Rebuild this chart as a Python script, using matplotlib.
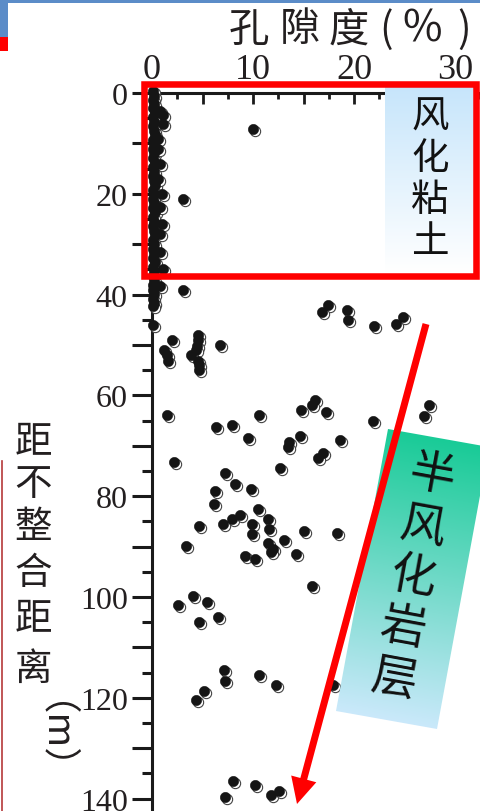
import numpy as np
import matplotlib
matplotlib.use("Agg")
import matplotlib.pyplot as plt
from matplotlib import transforms
from matplotlib.colors import to_rgb
from matplotlib.patches import Rectangle, Polygon, FancyArrow
from matplotlib.ticker import MultipleLocator, FuncFormatter

W, H, DPI = 481, 812, 100
CJK = ["Noto Sans CJK SC", "DejaVu Sans"]

# weathered clay layer: porosity (%) vs distance to unconformity (m)
clay_depth = [-0.3, 0.5, 1.3, 2.2, 3.0, 3.9, 4.8, 5.7, 6.6, 7.5, 8.4, 9.3, 10.2,
              11.1, 12.0, 12.9, 13.8, 14.7, 15.6, 16.5, 17.4, 18.3, 19.2, 20.1,
              21.0, 21.9, 22.8, 23.7, 24.6, 25.5, 26.4, 27.3, 28.2, 29.1, 30.0,
              30.9, 31.8, 32.7, 33.6, 34.5, 35.4, 36.3, 37.2, 38.1, 39.0, 39.9,
              40.8, 41.6, 42.3, 46.0,
              3.6, 4.4, 6.2, 9.1, 11.1, 14.1, 17.1, 20.0, 22.6, 26.0, 28.0, 31.5,
              34.9, 38.3, 7.1, 21.0, 39.1]
clay_porosity = [0.1, 0.2, 0.1, 0.2, 0.1, 0.3, 0.1, 0.2, 0.1, 0.2, 0.3, 0.1, 0.2,
                 0.1, 0.2, 0.1, 0.3, 0.1, 0.2, 0.1, 0.2, 0.3, 0.1, 0.2,
                 0.1, 0.2, 0.1, 0.3, 0.1, 0.2, 0.1, 0.2, 0.3, 0.1, 0.2,
                 0.1, 0.2, 0.1, 0.3, 0.1, 0.2, 0.1, 0.2, 0.1, 0.1, 0.2,
                 0.1, 0.2, 0.1, 0.1,
                 0.8, 1.1, 1.1, 0.6, 0.6, 0.8, 0.6, 1.0, 0.8, 1.0, 0.8, 0.8,
                 1.1, 0.8, 10.0, 3.1, 3.1]

# semi-weathered rock layer
rock_depth = [49.0, 50.9, 52.0, 53.1, 48.0, 49.1, 50.1, 50.9, 52.0, 53.1, 54.0, 54.9,
              50.0, 42.1, 43.5, 43.0, 45.0, 46.2, 45.8, 44.4,
              60.9, 62.0, 62.9, 63.2, 65.0, 62.0, 64.1,
              63.8, 66.3, 65.8, 68.5, 63.9, 68.0, 69.3, 70.3, 68.9, 71.4, 72.4,
              73.3, 75.4, 74.4, 77.6, 78.9, 78.6, 81.5, 82.5,
              86.0, 85.5, 84.5, 83.7, 84.5, 85.5, 86.5, 87.5, 87.0, 87.4, 88.6,
              89.3, 90.5, 91.0, 91.5, 91.8, 92.5, 89.9, 97.9,
              99.9, 101.6, 100.9, 105.0, 104.0,
              114.4, 115.5, 116.7, 117.5, 117.5, 118.6, 120.4,
              136.6, 137.3, 139.6, 139.3, 138.4]
rock_porosity = [1.95, 1.2, 1.45, 1.6, 4.6, 4.6, 4.5, 4.4, 3.9, 4.6, 4.65, 4.65,
                 6.7, 17.4, 16.8, 19.3, 19.4, 22.0, 24.2, 24.9,
                 16.1, 15.8, 14.8, 17.2, 21.85, 27.45, 26.9,
                 1.45, 6.3, 7.9, 9.5, 10.6, 14.7, 13.6, 13.5, 18.6, 16.9, 16.4,
                 2.2, 7.2, 12.7, 8.2, 6.2, 9.8, 6.1, 10.5,
                 4.7, 7.0, 7.9, 8.7, 11.45, 9.9, 11.6, 9.9, 15.0, 18.3, 13.1,
                 11.5, 11.95, 11.75, 14.3, 9.2, 10.2, 3.4, 15.8,
                 4.1, 2.6, 5.4, 4.7, 6.5,
                 7.1, 10.6, 7.2, 12.3, 17.95, 5.1, 4.4,
                 8.05, 10.2, 7.2, 11.75, 12.6]

title_chars = ["孔", "隙", "度", "(", "%", ")"]
ylabel_chars = ["距", "不", "整", "合", "距", "离"]
ylabel_unit = "（m）"
clay_label = "风化粘土"
rock_label = "半风化岩层"

plt.rcParams["font.family"] = ["Liberation Serif", "DejaVu Serif"]

fig = plt.figure(figsize=(W / DPI, H / DPI), dpi=DPI)
fig.patch.set_facecolor("white")

# main axes: x = 0 at px 152 (10.1 px per %), y = 0 at px 94 (5.04 px per m)
ax = fig.add_axes([152 / W, 0, 1 - 152 / W, 1 - 94 / H])
ax.set_xlim(0, (W - 152) / 10.1)
ax.set_ylim((H - 94) / 5.04, 0)

shadow = transforms.offset_copy(ax.transData, fig=fig, x=2, y=-2, units="dots")
for xs, ys in [(clay_porosity, clay_depth), (rock_porosity, rock_depth)]:
    for xv, yv in zip(xs, ys):
        ax.plot([xv], [yv], "o", ms=7.4, mfc="white", mec="#444444", mew=0.8,
                transform=shadow, clip_on=False, zorder=3)
        ax.plot([xv], [yv], "o", ms=7.4, mfc="#151515", mec="#151515", mew=0.4,
                clip_on=False, zorder=4)

for side in ["right", "bottom"]:
    ax.spines[side].set_visible(False)
for side in ["left", "top"]:
    ax.spines[side].set_linewidth(2.2)
    ax.spines[side].set_color("#1a1a1a")

ax.xaxis.tick_top()
ax.xaxis.set_major_locator(MultipleLocator(5))
ax.xaxis.set_minor_locator(MultipleLocator(2.5))
ax.xaxis.set_major_formatter(FuncFormatter(lambda v, _: f"{v:.0f}" if round(v) % 10 == 0 else ""))
ax.yaxis.set_major_locator(MultipleLocator(10))
ax.yaxis.set_minor_locator(MultipleLocator(5))
ax.yaxis.set_major_formatter(FuncFormatter(lambda v, _: f"{v:.0f}" if round(v) % 20 == 0 else ""))
ax.tick_params(axis="x", which="major", direction="in", length=8, width=2.0,
               labelsize=26, pad=5, colors="#1a1a1a", labelcolor="#231f20")
ax.tick_params(axis="x", which="minor", direction="in", length=4.5, width=2.0, colors="#1a1a1a")
ax.tick_params(axis="y", which="major", direction="out", length=14.5, width=2.2,
               labelsize=23, pad=3, colors="#1a1a1a", labelcolor="#231f20")
ax.tick_params(axis="y", which="minor", direction="out", length=7, width=2.2, colors="#1a1a1a")

# overlay in pixel coordinates for the slide annotations
ov = fig.add_axes([0, 0, 1, 1], zorder=5)
ov.patch.set_alpha(0)
ov.axis("off")


def vgrad(c_top, c_bot, n=200):
    a = np.linspace(0, 1, n)[:, None, None]
    return np.array(to_rgb(c_top)) * (1 - a) + np.array(to_rgb(c_bot)) * a


# slide decorations
ov.add_patch(Rectangle((0, 0), W, 4, color="#5b8cc8", lw=0))
ov.add_patch(Rectangle((0, 0), 8, 38, color="#5b8cc8", lw=0))
ov.add_patch(Rectangle((0, 38), 8, 14, color="#ff0000", lw=0))
ov.plot([2, 2], [462, H], color="#b5383a", lw=1.2)

# weathered clay highlight
ov.imshow(vgrad("#c6e5fb", "#ffffff"), extent=(385, 475, 273, 85), aspect="auto",
          interpolation="bilinear", zorder=2)
ov.add_patch(Rectangle((144.5, 84.5), 332, 192, fill=False, ec="#ff0000", lw=4.7,
                       joinstyle="miter", zorder=3))
for ch, yc in zip(clay_label, [117, 158, 200, 243]):
    ov.text(430, yc, ch, ha="center", va="center", fontsize=27, family=CJK,
            color="#111111", zorder=4)

# semi-weathered rock label (tilted gradient box)
tl, tr, br, bl = np.array([388, 430]), np.array([489, 448]), np.array([437, 730]), np.array([336, 712])
box = Polygon([tl, tr, br, bl], closed=True, facecolor="none", edgecolor="none",
              transform=ov.transData)
ov.add_patch(box)
gx, gy = np.meshgrid(np.arange(336, 490), np.arange(430, 731))
down = (bl - tl) / np.linalg.norm(bl - tl)
t = ((gx - tl[0]) * down[0] + (gy - tl[1]) * down[1]) / np.linalg.norm(bl - tl)
t = np.clip(t, 0, 1)[..., None]
img = np.array(to_rgb("#19cb97")) * (1 - t) + np.array(to_rgb("#cbe9fb")) * t
im = ov.imshow(img, extent=(336, 490, 731, 430), aspect="auto", interpolation="bilinear", zorder=2)
im.set_clip_path(box)

top_c = (tl + tr) / 2
bot_c = (bl + br) / 2
for ch, frac in zip(rock_label, [0.13, 0.31, 0.49, 0.67, 0.85]):
    cx, cy = top_c + (bot_c - top_c) * frac
    ov.text(cx, cy, ch, ha="center", va="center", rotation=-10.4, fontsize=33,
            family=CJK, color="#111111", zorder=4)

ov.add_patch(FancyArrow(426, 325, 297 - 426, 805 - 325, width=7, head_width=26,
                        head_length=26, length_includes_head=True, color="#ff0000",
                        lw=0, zorder=5))

# titles
for ch, xc, fs in zip(title_chars, [249, 300, 349, 386, 422, 464], [29, 29, 29, 29, 31, 29]):
    ov.text(xc, 30, ch, ha="center", va="center", fontsize=fs, family=CJK, color="#231f20")
for ch, yc in zip(ylabel_chars, [443, 485, 528, 574, 620, 669]):
    ov.text(33, yc, ch, ha="center", va="center", fontsize=27, family=CJK, color="#231f20")
ov.text(33, 756, ylabel_unit, ha="center", va="center", rotation=270, fontsize=27,
        family=CJK, color="#231f20")

ov.set_xlim(0, W)
ov.set_ylim(H, 0)

fig.savefig("out.png", dpi=DPI)
